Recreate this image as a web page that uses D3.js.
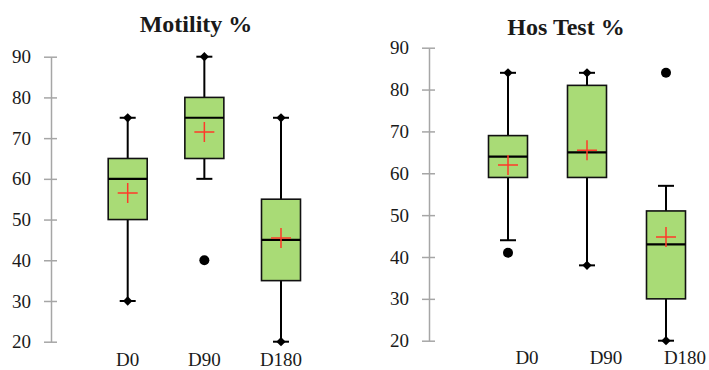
<!DOCTYPE html>
<html>
<head>
  <meta charset="utf-8">
  <script src="https://d3js.org/d3.v7.min.js"></script>
  <style>
    body { margin: 0; background: #fff; }
    svg text { font-family: "Liberation Serif", "Times New Roman", serif; fill: #1a1a1a; }
  </style>
</head>
<body>
<div id="chart"></div>
<script>
  "use strict"

  // categorias
  var grupos = ["D0", "D90", "D180"];
  var ticksY = [20, 30, 40, 50, 60, 70, 80, 90];

  // Motility %
  var motBigLow = [30, 60, 20];
  var motQ1 = [50, 65, 35];
  var motMediana = [60, 75, 45];
  var motQ3 = [65, 80, 55];
  var motBigHigh = [75, 90, 75];
  var motMedia = [56.5, 71.5, 45.5];
  var motMin = [30, 40, 20];
  var motMax = [75, 90, 75];
  var motOutliers = [[], [40], []];

  // Hos Test %
  var hosBigLow = [44, 38, 20];
  var hosQ1 = [59, 59, 30];
  var hosMediana = [64, 65, 43];
  var hosQ3 = [69, 81, 51];
  var hosBigHigh = [84, 84, 57];
  var hosMedia = [62, 65.5, 44.8];
  var hosMin = [41, 38, 20];
  var hosMax = [84, 84, 84];
  var hosOutliers = [[41], [], [84]];

  var svg = d3.select('#chart').append('svg')
      .attr('width', 709).attr('height', 370);

  function monta(lo, q1, med, q3, hi, media, mn, mx, out) {
    return grupos.map(function(g, i) {
      return {g: g, lo: lo[i], q1: q1[i], med: med[i], q3: q3[i], hi: hi[i],
              media: media[i], min: mn[i], max: mx[i], out: out[i]};
    });
  }

  function desenha(cfg) {
    var y = d3.scaleLinear().domain([20, 90]).range([cfg.yBase, cfg.yTopo]);
    var x = d3.scalePoint().domain(grupos).range([cfg.x0, cfg.x1]);
    var g = svg.append('g');
    var bw = 39;

    // eixo
    var eixo = g.append('g')
        .attr('transform', 'translate(' + cfg.eixoX + ',0)')
        .call(d3.axisLeft(y).tickValues(ticksY).tickSizeInner(0).tickSizeOuter(0).tickPadding(20));
    eixo.select('.domain').attr('stroke', '#a6a6a6').attr('stroke-width', 1.5);
    eixo.selectAll('.tick line').attr('x1', -7).attr('x2', 6)
        .attr('stroke', '#a6a6a6').attr('stroke-width', 1.5);
    eixo.selectAll('.tick text').style('font-size', '19px')
        .style('font-family', '"Liberation Serif", serif').attr('fill', '#1a1a1a');

    var caixas = g.selectAll('.caixa').data(cfg.dados).enter().append('g');

    // whiskers
    caixas.append('line')
        .attr('x1', d => x(d.g)).attr('x2', d => x(d.g))
        .attr('y1', d => y(d.lo)).attr('y2', d => y(d.hi))
        .attr('stroke', '#000').attr('stroke-width', 2);
    [['lo'], ['hi']].forEach(function(k) {
      caixas.append('line')
          .attr('x1', d => x(d.g) - 8).attr('x2', d => x(d.g) + 8)
          .attr('y1', d => y(d[k])).attr('y2', d => y(d[k]))
          .attr('stroke', '#000').attr('stroke-width', 2);
    });

    // caixa
    caixas.append('rect')
        .attr('x', d => x(d.g) - bw / 2).attr('width', bw)
        .attr('y', d => y(d.q3)).attr('height', d => y(d.q1) - y(d.q3))
        .attr('fill', '#a9db76').attr('stroke', '#111').attr('stroke-width', 1.6);
    caixas.append('line')
        .attr('x1', d => x(d.g) - bw / 2).attr('x2', d => x(d.g) + bw / 2)
        .attr('y1', d => y(d.med)).attr('y2', d => y(d.med))
        .attr('stroke', '#000').attr('stroke-width', 2.2);

    // media (cruz vermelha)
    caixas.append('path')
        .attr('d', d => 'M' + (x(d.g) - 10) + ',' + y(d.media) + 'h20M' + x(d.g) + ',' + (y(d.media) - 10) + 'v20')
        .attr('stroke', '#ff3a2a').attr('stroke-width', 1.5).attr('fill', 'none');

    // min / max (diamantes) se nao forem outliers
    var diamante = d3.symbol().type(d3.symbolDiamond2).size(55);
    cfg.dados.forEach(function(d) {
      [d.min, d.max].forEach(function(v) {
        if (d.out.indexOf(v) < 0) {
          g.append('path').attr('d', diamante)
              .attr('transform', 'translate(' + x(d.g) + ',' + y(v) + ')')
              .attr('fill', '#000');
        }
      });
      d.out.forEach(function(v) {
        g.append('circle').attr('cx', x(d.g)).attr('cy', y(v)).attr('r', 5).attr('fill', '#000');
      });
    });

    // rotulos x
    g.selectAll('.rot').data(grupos).enter().append('text')
        .attr('x', d => x(d) + cfg.desloc).attr('y', cfg.rotY)
        .attr('text-anchor', 'middle').style('font-size', '19px')
        .text(d => d);

    // titulo
    g.append('text').attr('x', cfg.tituloX).attr('y', cfg.tituloY)
        .attr('text-anchor', 'middle').style('font-size', '24px').style('font-weight', 'bold')
        .text(cfg.titulo);
  }

  desenha({
    titulo: 'Motility %', tituloX: 196, tituloY: 32,
    dados: monta(motBigLow, motQ1, motMediana, motQ3, motBigHigh, motMedia, motMin, motMax, motOutliers),
    yBase: 341.7, yTopo: 56.7, x0: 127.7, x1: 281, eixoX: 51, desloc: 0, rotY: 366
  });
  desenha({
    titulo: 'Hos Test %', tituloX: 566, tituloY: 35,
    dados: monta(hosBigLow, hosQ1, hosMediana, hosQ3, hosBigHigh, hosMedia, hosMin, hosMax, hosOutliers),
    yBase: 340.7, yTopo: 47.7, x0: 508, x1: 666, eixoX: 429, desloc: 19, rotY: 364
  });
</script>
</body>
</html>
